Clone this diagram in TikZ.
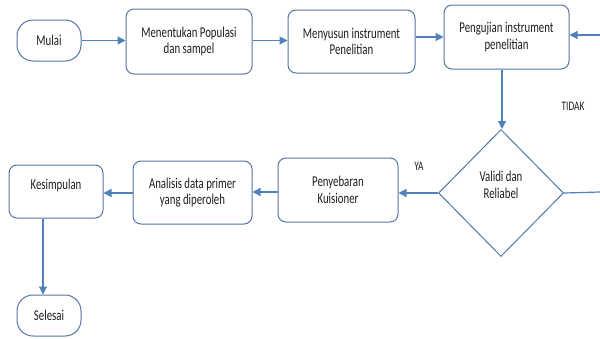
\documentclass[tikz,border=0pt]{standalone}
\usepackage{fontspec}
\setmainfont{Carlito}[FakeStretch=0.72]
\usetikzlibrary{arrows.meta,shapes.geometric}
\definecolor{boxline}{RGB}{84,118,163}
\definecolor{arrowc}{RGB}{79,129,189}
\definecolor{txt}{RGB}{30,30,30}
\tikzset{
  x=1pt,y=-1pt,
  procbox/.style={draw=boxline,line width=1pt,rounded corners=8pt,fill=white,
    align=center,inner sep=0pt,text=txt,font=\fontsize{15}{16.5}\selectfont},
  termbox/.style={draw=boxline,line width=1pt,rounded corners=16pt,fill=white,
    align=center,inner sep=0pt,text=txt,font=\fontsize{15}{16.5}\selectfont,
    minimum width=64pt,minimum height=41pt},
  decbox/.style={draw=boxline,line width=1pt,diamond,inner sep=0pt,
    minimum width=125pt,minimum height=127pt},
  flow/.style={draw=arrowc,line width=1.2pt,-{Triangle[length=8pt,width=8pt]}},
  plain/.style={draw=arrowc,line width=1.2pt},
  lbl/.style={text=txt,font=\fontsize{13}{14}\selectfont,inner sep=0pt}
}
\begin{document}
\begin{tikzpicture}
\useasboundingbox (0,0) rectangle (600,338);
\node[termbox] (mulai) at (49,40.5) {Mulai};
\node[procbox,minimum width=126pt,minimum height=65pt] (menentukan) at (189,41.5) {Menentukan Populasi\\dan sampel};
\node[procbox,minimum width=127pt,minimum height=63pt] (menyusun) at (351.5,41.5) {Menyusun instrument\\Penelitian};
\node[procbox,minimum width=125pt,minimum height=64pt] (pengujian) at (506.5,37) {Pengujian instrument\\penelitian};
\node[decbox] (dia) at (501,193) {};
\node[text=txt,font=\fontsize{15}{16.5}\selectfont,align=center,inner sep=0pt] (diatext) at (501,185) {Validi dan\\Reliabel};
\node[procbox,minimum width=120pt,minimum height=64pt] (penyebaran) at (338,190) {Penyebaran\\Kuisioner};
\node[procbox,minimum width=119pt,minimum height=63pt] (analisis) at (192.5,192.5) {Analisis data primer\\yang diperoleh};
\node[procbox,minimum width=94pt,minimum height=53pt] (kesimpulan) at (56,191.5) {};
\node[text=txt,font=\fontsize{15}{16.5}\selectfont,inner sep=0pt] (kestext) at (56,185) {Kesimpulan};
\node[termbox] (selesai) at (49,315.5) {Selesai};
\node[lbl] (tidak) at (573,106) {TIDAK};
\node[lbl] (ya) at (419,166) {YA};
\coordinate (redge1) at (600,192);
\coordinate (redge2) at (600,35);
\coordinate (xdown) at (43,0);
\coordinate (xmid) at (502,0);

\draw[flow] (mulai.east) -- (mulai.east -| menentukan.west);
\draw[flow] (menentukan.east |- mulai.east) -- (mulai.east -| menyusun.west);
\draw[flow] (menyusun.east |- pengujian.west) -- (pengujian.west);
\draw[flow] (redge2) -- (redge2 -| pengujian.east);
\draw[flow] (pengujian.south -| xmid) -- (dia.north -| xmid);
\draw[plain] (dia.east) -- (redge1);
\draw[flow] (dia.west) -- (dia.west -| penyebaran.east);
\draw[flow] (penyebaran.west |- 0,192) -- (analisis.east |- 0,192);
\draw[flow] (analisis.west |- 0,193) -- (kesimpulan.east |- 0,193);
\draw[flow] (kesimpulan.south -| xdown) -- (selesai.north -| xdown);
\end{tikzpicture}
\end{document}
